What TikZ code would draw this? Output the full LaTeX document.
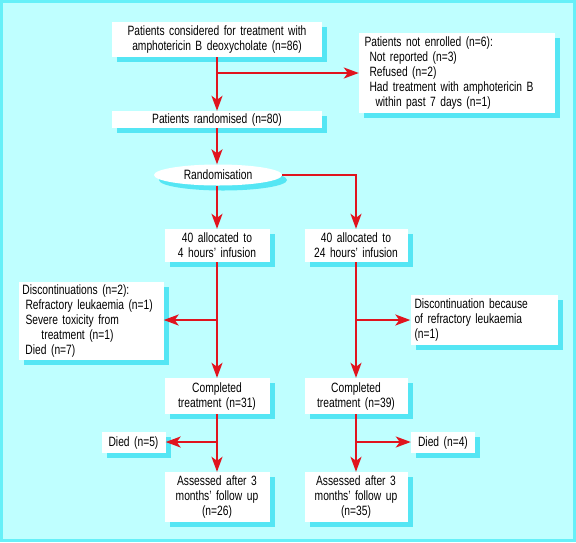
\documentclass[tikz,border=0pt]{standalone}
\usepackage{fontspec}
\setmainfont{Liberation Sans}[FakeStretch=0.76]
\usetikzlibrary{arrows.meta,shapes.geometric,shadows}

\definecolor{bgcyan}{HTML}{BFFFFF}
\definecolor{framecyan}{HTML}{66F0F8}
\definecolor{shcyan}{HTML}{55E6F4}
\definecolor{arrred}{HTML}{E0141E}

\tikzset{
  box/.style={rectangle, fill=white, inner xsep=4pt, inner ysep=2pt, align=center,
    font=\fontsize{13.5}{15}\selectfont,
    drop shadow={shadow xshift=5pt, shadow yshift=-5pt, fill=shcyan, opacity=1}},
  arr/.style={draw=arrred, line width=2pt, -{Stealth[length=15pt,width=11pt,inset=4pt]}},
}

\begin{document}
\begin{tikzpicture}[x=1pt, y=-1pt]

    % Background
    \useasboundingbox (0,0) rectangle (576,542);
    \draw[fill=bgcyan, draw=framecyan, line width=3pt] (1.5,1.5) rectangle (574.5,540.5);

    % Nodes
    \node [box, text width=202pt, minimum height=35pt] (cons) at (217,39.5)
        {Patients considered for treatment with\\amphotericin B deoxycholate (n=86)};
    \node [box, align=left, inner xsep=5.5pt, text width=185pt, minimum height=80pt] (notenr) at (457,73)
        {Patients not enrolled (n=6):\\
         \hspace*{5pt}Not reported (n=3)\\
         \hspace*{5pt}Refused (n=2)\\
         \hspace*{5pt}Had treatment with amphotericin B\\
         \hspace*{11pt}within past 7 days (n=1)};
    \node [box, text width=202pt, minimum height=17pt, inner ysep=1pt] (rand) at (217,119.5)
        {Patients randomised (n=80)};
    \node [box, ellipse, minimum width=128pt, minimum height=21pt, inner sep=0pt] (randn) at (218,175)
        {Randomisation};
    \node [box, text width=97pt, minimum height=33pt] (alloc4) at (217,245.5)
        {40 allocated to\\4 hours' infusion};
    \node [box, text width=95pt, minimum height=33pt] (alloc24) at (356,245.5)
        {40 allocated to\\24 hours' infusion};
    \node [box, align=left, inner xsep=4pt, text width=137pt, minimum height=78pt] (disc4) at (91,321)
        {Discontinuations (n=2):\\
         \hspace*{3pt}Refractory leukaemia (n=1)\\
         \hspace*{3pt}Severe toxicity from\\
         \hspace*{19pt}treatment (n=1)\\
         \hspace*{3pt}Died (n=7)};
    \node [box, align=left, text width=139pt, minimum height=50pt] (disc24) at (484,320)
        {Discontinuation because\\of refractory leukaemia\\(n=1)};
    \node [box, text width=97pt, minimum height=36pt] (comp31) at (217,396)
        {Completed\\treatment (n=31)};
    \node [box, text width=95pt, minimum height=36pt] (comp39) at (356,396)
        {Completed\\treatment (n=39)};
    \node [box, text width=56pt, minimum height=21pt] (died5) at (133.5,442.5)
        {Died (n=5)};
    \node [box, text width=56pt, minimum height=21pt] (died4) at (443,442.5)
        {Died (n=4)};
    \node [box, text width=97pt, minimum height=50pt] (ass26) at (217,497)
        {Assessed after 3\\months' follow up\\(n=26)};
    \node [box, text width=95pt, minimum height=50pt] (ass35) at (356,497)
        {Assessed after 3\\months' follow up\\(n=35)};

    % Branch points
    \coordinate (b1) at (217,73);
    \coordinate (b4) at (217,320);
    \coordinate (b24) at (356,320);
    \coordinate (d4) at (217,442);
    \coordinate (d24) at (356,442);

    % Arrows
    \draw[arr] (cons) -- (rand);
    \draw[arr] (b1) -- (b1 -| notenr.west);
    \draw[arr] (rand) -- (rand |- randn.north);
    \draw[arr] (alloc4 |- randn.south) -- (alloc4);
    \draw[arr] (randn.east) -| (alloc24.north);
    \draw[arr] (alloc4) -- (comp31);
    \draw[arr] (alloc24) -- (comp39);
    \draw[arr] (b4) -- (b4 -| disc4.east);
    \draw[arr] (b24) -- (b24 -| disc24.west);
    \draw[arr] (comp31) -- (ass26);
    \draw[arr] (comp39) -- (ass35);
    \draw[arr] (d4) -- (d4 -| died5.east);
    \draw[arr] (d24) -- (d24 -| died4.west);

\end{tikzpicture}
\end{document}
